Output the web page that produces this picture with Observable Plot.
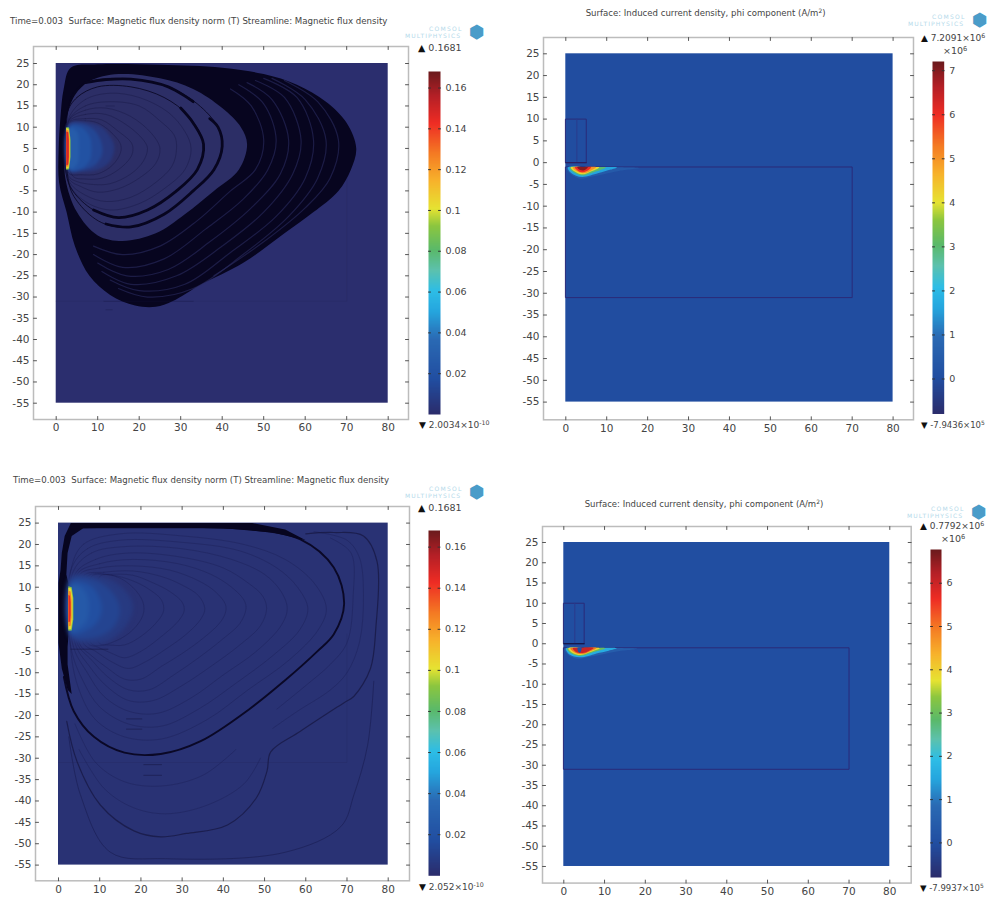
<!DOCTYPE html>
<html><head><meta charset="utf-8">
<script src="https://cdn.jsdelivr.net/npm/d3@7"></script>
<script src="https://cdn.jsdelivr.net/npm/@observablehq/plot@0.6"></script>
<style>
html,body{margin:0;padding:0;background:#fff}
#page{position:relative;width:989px;height:900px;overflow:hidden;font-family:"DejaVu Sans",sans-serif;color:#444}
#page>svg{position:absolute;overflow:visible}
.t{position:absolute;white-space:pre;line-height:1}
.t b{color:#111;font-weight:normal}
sup{font-size:70%;line-height:0;vertical-align:baseline;position:relative;top:-.45em}
</style></head><body><div id="page"></div>
<script>
// ---------- shared tick labels and colour stops ----------
const xTicks = [0,10,20,30,40,50,60,70,80];
const yTicks = [25,20,15,10,5,0,-5,-10,-15,-20,-25,-30,-35,-40,-45,-50,-55];
const colorStops = [0,.1,.22,.3,.36,.42,.48,.55,.6,.68,.76,.85,.93,1];
const colorRange = ["#2b2c6b","#214da0","#2a6ab4","#25a6de","#2dbde6","#5cc1ae","#5ab96a","#8cc63f","#e6e332","#f7b32b","#f47b23","#ee2c24","#b31f26","#6a1a1c"];

// ---------- titles ----------
const titleB = "Surface: Magnetic flux density norm (T) Streamline: Magnetic flux density";
const titleJ = "Surface: Induced current density, phi component (A/m";

// ---------- colour bar ranges and ticks ----------
const rangeB1 = [2.0034e-10,0.1681], rangeB2 = [2.052e-10,0.1681];
const rangeJ1 = [-0.79436,7.2091], rangeJ2 = [-0.79937,6.7792];
const ticksB = [0.02,0.04,0.06,0.08,0.1,0.12,0.14,0.16];
const ticksJ1 = [0,1,2,3,4,5,6,7];
const ticksJ2 = [0,1,2,3,4,5,6];

// ---------- panel 1: magnetic flux density (top left) ----------
const p1Black = [[0.7,-3],[0.6,5],[1,12],[1.8,19],[3.5,24],[10,24.8],[25,24.7],[40,24],[50,22.5],[58,20],[65,16],[70,11],[72.3,5],[71,0],[68,-5],[62,-10],[55,-15],[45,-22],[35,-27],[28,-31],[24,-32.3],[19,-32],[13,-29.5],[8,-25],[4.5,-18],[2.5,-10]];
const p1Navy = [[2.2,-2],[2.2,6],[2.5,12],[4.5,17.5],[8,20.8],[15,22.5],[25,21.5],[33,19],[40,14.5],[44.5,10],[46,6],[44,0],[38,-5],[31,-10.5],[24,-15],[16,-16.8],[10,-15.5],[5,-10]];
const p1Bands = [
 [[2.5,13],[5,17],[10,19.5],[18,19.5],[26,17],[32,12.5],[35.5,6],[34,0],[29,-5],[22,-9.5],[15,-11.3],[9,-9.5],[4,-5],[2.4,-1]],
 [[4,18],[9,21],[18,21.3],[27,19.5],[34,15.5],[39,10],[40,5.5],[38,0],[33,-5],[26,-10.5],[18,-13.5],[11,-12.5],[5.5,-8],[3,-3]]
];
const p1Thick = [
 [[30,14.5],[33,11],[35.5,6],[34,0],[29,-5],[22,-9.5],[15,-11.3],[9,-9.5]],
 [[37,12],[39,10],[40,5.5],[38,0],[33,-5],[26,-10.5],[18,-13.5],[12,-12.8]],
 [[7,20.5],[12,21.2],[18,21.3],[27,19.5],[33,16]]
];
const p1Arcs = [
 [[42,19],[47,15],[50,7],[48,0],[42,-5],[34,-12],[25,-18],[16,-20],[9,-18]],
 [[44,20],[50,15.5],[53,7],[51,0],[45,-7],[36,-14],[26,-21],[16,-23],[9,-20]],
 [[46,20.5],[52,16.5],[56,7],[54,-1],[47,-9],[37,-17],[27,-23.5],[17,-25],[10,-22]],
 [[48,21],[55,17],[59,7],[57,-1],[50,-10],[40,-18],[29,-25],[18,-27],[11,-24]],
 [[50,21.5],[58,17],[62,7],[60,-2],[53,-11],[42,-19.5],[31,-27],[20,-28.5],[13,-26]],
 [[52,21.5],[60,16.5],[65,7],[63,-2],[56,-11],[45,-20],[33,-28],[22,-30],[15,-28]],
 [[55,21],[63,16],[68,7],[66,-2],[60,-9],[50,-17],[38,-25]]
];
const p1Rings = [
 [[3,12],[7,16.5],[13,18],[20,17],[27,13.5],[31,9],[32.5,5],[31,0],[26,-4.5],[20,-8],[13,-9.5],[7,-7.5],[3,-3]],
 [[3,11.5],[7,15],[13,16],[20,15],[25,11.5],[28.5,8],[29,5],[28,1],[24,-3],[18,-6.5],[12,-7.5],[7,-6],[3,-2.5]],
 [[3,11.5],[7,14],[12,14.5],[18,12.5],[23,8.5],[25,5],[24,1.5],[20,-2],[15,-4.5],[10,-5.3],[6,-4],[3,-2]],
 [[3,11.2],[7,13],[12,13],[17,10.5],[21,7],[22,5],[21,2],[18,-1],[13,-3.3],[9,-3.5],[5,-2.8],[3,-1.5]],
 [[3,11],[7,12],[11,11.7],[15,9],[18,6.5],[18.5,5],[18,3],[15,0],[11,-2],[7,-2.2],[4,-1.5]],
 [[3,10.8],[7,11.5],[10,11],[13,9],[15.5,6],[15.5,4],[13.5,1],[10,-1],[6,-1.2],[3,-0.8]]
];
const p1Glow = [
 {value:0.006,pts:[[3,10.8],[8,11],[11,10],[13.5,7],[14,5],[13,2],[10,0],[6,-0.5],[3,-0.3]]},
 {value:0.013,pts:[[3.2,10.5],[7,10.6],[9.5,9],[11,6],[11,3.5],[9.5,1.2],[6.5,-0.1],[3.2,-0.2]]},
 {value:0.02,pts:[[3.3,10.2],[6,10],[8,8],[8.5,5],[8,2],[6,0.2],[3.3,-0.2]]},
 {value:0.027,pts:[[3.3,9.8],[5,9],[5.5,5],[5,1.2],[3.3,0.1]]}
];
const p1Strip = [
 {value:0.09,pts:[[2.4,0],[2.4,10],[3.1,9.9],[3.45,7],[3.45,3],[3.1,0.1]]},
 {value:0.105,pts:[[2.4,0.2],[2.4,9.8],[3,9.6],[3.3,7],[3.3,3],[3,0.4]]},
 {value:0.125,pts:[[2.4,0.6],[2.4,9.4],[2.95,9.2],[3.2,7],[3.2,3],[2.95,0.8]]},
 {value:0.148,pts:[[2.4,1],[2.4,9],[2.9,8.8],[3.05,7],[3.05,3],[2.9,1.2]]}
];

// ---------- panel 2: magnetic flux density (bottom left) ----------
const p2Black = [[3,25],[47,25],[55,23.5],[60,21],[52,22.8],[40,23.8],[20,24],[6,23.8],[3.2,22],[2.2,18],[1.9,13],[2.4,11],[2.4,-1.5],[2.2,-4],[2.2,-8],[3.2,-15],[2.2,-14],[0.8,-9],[0,-3],[0,11],[0.5,14],[0.8,18],[1.5,22]];
const p2Main = [[3.5,24],[15,24],[35,24],[46,23.6],[58.7,21.2],[66.8,14.6],[69.3,6],[66.8,-1],[62.8,-5],[54.7,-12],[46.6,-18.3],[34.5,-26],[24.8,-29],[16,-28.7],[8.6,-25],[3.7,-19],[1.3,-11]];
const p2Second = [[60,22.5],[66.8,22.8],[74,22],[77.3,16],[77,0.5],[75.7,-9],[71.7,-15.5],[69.3,-17],[58.7,-23.7],[51.5,-28.5],[50.6,-33],[48,-39.3],[41,-45.6],[31,-47.6],[24.8,-48.4],[18.3,-47],[10.2,-41],[4.5,-30.8],[2,-21.4]];
const p2Third = [[76.5,-12],[75,-27],[71.7,-38.5],[68.5,-46],[55,-52],[26,-53.5],[12.6,-52],[5.3,-38.5],[2.5,-25]];
const p2Arcs = [
 [[62,23],[70,21],[73,17],[74,8],[73,-3],[70,-10],[66,-14],[58,-19],[52,-23]],
 [[66,21.5],[71,18],[71.5,8],[70,-3],[66,-8],[60,-13],[53,-18.5]],
 [[4,-22],[9,-31],[16,-35.5],[25,-36.5],[35,-34],[43,-28]],
 [[5,-28],[11,-37],[18,-41.5],[26,-43],[36,-41],[45,-36],[49,-30]]
];
const p2Rings = [
 [[3,14],[6,20],[15,22.5],[30,22],[45,20],[55,16.5],[62,11],[65,5],[63,0],[56,-7],[46,-14],[36,-21],[25,-25.5],[16,-25],[9,-21],[5,-14],[3,-5]],
 [[3,14],[7,19],[15,21],[30,20.5],[44,18.5],[53,14.5],[58,10],[60.5,5],[58.5,0],[52,-6],[43,-12.5],[34,-18.5],[25,-22.5],[17,-22],[10,-18],[6,-12],[3,-4]],
 [[3.5,13.5],[8,18],[16,19.5],[30,19],[42,16.5],[50,13],[54,9],[55.5,5],[54,1],[48,-5],[40,-10.5],[32,-16],[24,-19.5],[17,-19],[11,-15.5],[7,-10],[3.5,-3.5]],
 [[4,13],[9,16.5],[17,18],[30,17],[40,14.5],[46,11],[49.5,8],[50.5,5],[49,1],[44,-3.5],[37,-8.5],[30,-13],[23,-16.5],[17,-16.5],[11.5,-13],[7.5,-8.5],[4,-3]],
 [[4.5,13],[10,15.5],[18,16.5],[29,15.5],[37,13],[42,10],[45,7],[45.5,5],[44,1.5],[40,-2],[34,-6.5],[28,-10.5],[22,-14],[17,-14],[12,-11],[8,-7],[4.5,-3]],
 [[5,12.8],[10,14.5],[18,15],[27,14],[34,11.5],[38,9],[40.5,6],[40.5,4],[39,1.5],[35,-2],[30,-5.5],[25,-8.5],[20,-11.5],[16,-11.5],[12,-9],[8,-6],[5,-3]],
 [[6,12.6],[11,13.5],[18,13.8],[25,12.5],[30,10.5],[34,8],[35.5,5],[34.5,2.5],[31,-1],[26,-4.5],[21,-7.5],[17,-9],[13,-7.5],[9,-5],[6,-3]],
 [[7,12.5],[12,13],[18,12.8],[23,11],[27,9],[30,6.5],[30.5,4.5],[29,2],[25,-1.5],[20,-5],[16,-6.5],[13,-5.5],[9.5,-4],[7,-3]],
 [[8,12.5],[13,12.8],[18,11.5],[22,9.5],[25,7],[25.5,4.5],[24,2],[20,-1.5],[16,-3.5],[12,-3.5],[8,-3.2]],
 [[10,12.5],[14,12.5],[18,10],[20.5,6.5],[20.5,3.5],[18,0],[14,-2.5],[10,-3.2]]
];
const p2Glow = [
 {value:0.007,pts:[[3,12.6],[9,12.6],[14,11],[17.5,7.5],[18,4.5],[16,0.5],[12,-2.6],[7,-3.2],[3,-2]]},
 {value:0.012,pts:[[3,11.8],[8,12],[12,9.8],[14.5,6.5],[14.8,3.5],[13,0.3],[9,-1.7],[3,-1.4]]},
 {value:0.018,pts:[[3,11],[7,10.8],[9.5,8.5],[10.5,5],[9.5,2],[7,0],[3,-0.8]]},
 {value:0.025,pts:[[3,10.5],[5.5,10],[7,8],[7.4,5],[6.8,2],[5,0.4],[3,-0.4]]}
];
const p2Strip = [
 {value:0.09,pts:[[2.4,-0.2],[2.4,10.2],[3.2,10],[3.6,7.5],[3.6,2.5],[3.2,-0.1]]},
 {value:0.105,pts:[[2.4,0.1],[2.4,9.9],[3.05,9.7],[3.4,7.5],[3.4,2.5],[3.05,0.2]]},
 {value:0.125,pts:[[2.4,0.8],[2.4,9.2],[2.95,9],[3.15,7],[3.15,3],[2.95,1]]},
 {value:0.145,pts:[[2.4,1.8],[2.4,8.2],[2.8,8],[2.95,6.5],[2.95,3.5],[2.8,2]]}
];
const p1Dashes = [[[12,15],[14,15]],[[11.5,-31],[33,-31]],[[12,-33],[13.5,-33]]];
const p2Dashes = [[[16.5,-20.8],[20.2,-20.8]],[[16.5,-23.2],[20.2,-23.2]],[[20.7,-31.5],[25,-31.5]],[[20.7,-34],[25,-34]],[[3,-4.5],[12,-4.5]]];
const ironEdge = [[70,-1],[70,-31],[0,-31]];

// ---------- panels 3 and 4: induced current density ----------
const coilBox = [[0,10],[5,10],[5,0],[0,0]];
const coilLine = [[2.7,10],[2.7,0]];
const plateBox = [[0,-1],[70,-1],[70,-31],[0,-31]];
const j1Heat = [
 {value:0.45,pts:[[0.2,-1.1],[0.9,-2.4],[2.5,-3.4],[4,-3.7],[6,-3.3],[9,-2.7],[13,-1.9],[18,-1.25],[12,-1.05],[5,-1.05]]},
 {value:1.6,pts:[[0.5,-1.1],[1.1,-2.2],[2.5,-3],[4,-3.3],[6,-2.95],[8,-2.4],[11,-1.6],[12.5,-1.1],[6,-1.05]]},
 {value:3,pts:[[0.9,-1.1],[1.6,-2],[3,-2.75],[4,-2.95],[5.5,-2.65],[7.5,-2],[9.8,-1.1],[5,-1.05]]},
 {value:4.2,pts:[[1.2,-1.1],[2.1,-2],[3.4,-2.6],[4.5,-2.65],[6,-2.1],[8.2,-1.1],[5,-1.05]]},
 {value:5,pts:[[1.7,-1.1],[2.7,-2],[3.9,-2.4],[5,-2.3],[6.4,-1.7],[7.4,-1.05],[4.5,-1.05]]},
 {value:6,pts:[[2.2,-1.05],[3,-1.9],[4,-2.2],[5,-2],[6.2,-1.05],[4.2,-1]]},
 {value:7,pts:[[2.8,-1.05],[3.5,-1.7],[4.5,-1.75],[5.4,-1.05],[4.1,-1]]}
];
const j2Heat = [
 {value:0.45,pts:[[0.2,-1.2],[0.9,-2.6],[2.5,-3.5],[4,-3.7],[6,-3.3],[9,-2.7],[13,-1.9],[18,-1.25],[12,-1.05],[5,-1.05]]},
 {value:1.6,pts:[[0.5,-1.2],[1.1,-2.4],[2.5,-3.15],[4,-3.35],[6,-3],[8,-2.4],[11,-1.7],[13,-1.1],[6,-1.05]]},
 {value:3,pts:[[0.8,-1.2],[1.5,-2.2],[3,-2.85],[4,-3],[5.5,-2.7],[7.5,-2],[10.2,-1.1],[5,-1.05]]},
 {value:4,pts:[[1.1,-1.1],[1.9,-2.1],[3.3,-2.7],[4.5,-2.7],[6,-2.2],[8.8,-1.1],[5,-1.05]]},
 {value:5,pts:[[1.6,-1.1],[2.4,-2],[3.5,-2.45],[5,-2.45],[6.6,-1.8],[8,-1.05],[4.5,-1.05]]},
 {value:6,pts:[[2.2,-1.1],[2.9,-1.95],[3.6,-2.25],[5,-2.25],[6.5,-1.6],[7.3,-1.05],[4.2,-1]]},
 {value:0,pts:[[3.4,-1.02],[3.5,-1.9],[3.9,-2.2],[4.2,-1.9],[4.35,-1.02]]}
];

// ---------- helpers turning the named lists into tables ----------
const toRows = (curves) => curves.flatMap((pts, i) => pts.map(([x, y]) => ({x, y, i})));
const heatRows = (levels) => levels.flatMap((l, i) => l.pts.map(([x, y]) => ({x, y, i, value: l.value})));
const page = document.getElementById("page");
const ink = "#444", frameInk = "#bcbcbc", tickInk = "#555", deep = "#07051f";

function colorOpt([lo, hi]) {
  return {type: "linear", clamp: true, domain: colorStops.map(t => lo + t * (hi - lo)), range: colorRange, interpolate: "rgb"};
}
const tickShape = {draw(c, l) { c.moveTo(0, 0); c.lineTo(0, -l); }};
function frameTicks(values, axis, len, stroke) {
  const o = {length: len, anchor: "start", shape: tickShape, stroke, strokeWidth: 1};
  return axis === "x"
    ? [Plot.vectorX(values, {x: d => d, frameAnchor: "bottom", rotate: 0, ...o}),
       Plot.vectorX(values, {x: d => d, frameAnchor: "top", rotate: 180, ...o})]
    : [Plot.vectorY(values, {y: d => d, frameAnchor: "left", rotate: 90, ...o}),
       Plot.vectorY(values, {y: d => d, frameAnchor: "right", rotate: -90, ...o})];
}
function panel(box, data, range, surfaceValue, marks) {
  const [l, r, t, b] = box, [x0, x80, y25, y55] = data;
  const mL = 32, mR = 1, mT = 1, mB = 20;
  const plot = Plot.plot({
    width: r - l + mL + mR, height: b - t + mT + mB,
    marginLeft: mL, marginRight: mR, marginTop: mT, marginBottom: mB,
    x: {domain: [0, 80], insetLeft: x0 - l, insetRight: r - x80},
    y: {domain: [-55, 25], insetTop: y25 - t, insetBottom: b - y55},
    color: colorOpt(range),
    style: {background: "transparent", fontFamily: "DejaVu Sans", color: ink, overflow: "visible"},
    marks: [
      Plot.rect([{x1: 0, x2: 80, y1: -55, y2: 25, value: surfaceValue}], {x1: "x1", x2: "x2", y1: "y1", y2: "y2", fill: "value", imageFilter: "blur(0.4px)"}),
      ...marks,
      Plot.frame({stroke: frameInk, strokeWidth: 1.5}),
      ...frameTicks(xTicks, "x", 3, tickInk),
      ...frameTicks(yTicks, "y", 3, tickInk),
      Plot.axisX(xTicks, {anchor: "bottom", tickSize: 0, tickPadding: 4.5, label: null, tickFormat: d => String(d), fontSize: 10.5, fill: ink}),
      Plot.axisY(yTicks, {anchor: "left", tickSize: 0, tickPadding: 4, label: null, tickFormat: d => String(d), fontSize: 10.5, fill: ink})
    ]
  });
  plot.style.left = (l - mL) + "px";
  plot.style.top = (t - mT) + "px";
  page.appendChild(plot);
}
function colorbar(box, range, ticks, fmt) {
  const [l, r, t, b] = box;
  const mR = 30;
  const plot = Plot.plot({
    width: r - l + mR, height: b - t,
    marginLeft: 0, marginRight: mR, marginTop: 0, marginBottom: 0,
    x: {domain: [0, 1], axis: null},
    y: {domain: range, axis: null},
    color: colorOpt(range),
    style: {background: "transparent", fontFamily: "DejaVu Sans", color: ink, overflow: "visible"},
    marks: [
      Plot.raster({x1: 0, x2: 1, y1: range[0], y2: range[1], width: 2, height: 400, fill: (x, y) => y, imageRendering: "auto"}),
      ...frameTicks(ticks, "y", 2, "#333"),
      Plot.axisY(ticks, {anchor: "right", tickSize: 0, tickPadding: 5, label: null, tickFormat: fmt, fontSize: 9.5, fill: ink})
    ]
  });
  plot.style.left = l + "px";
  plot.style.top = t + "px";
  page.appendChild(plot);
}
function label(html, x, y, size, extra) {
  const d = document.createElement("div");
  d.className = "t";
  d.style.cssText = `left:${x}px;top:${y}px;font-size:${size}px;${extra || ""}`;
  d.innerHTML = html;
  page.appendChild(d);
}
function logo(x, y) {
  label("COMSOL", x + 24, y, 6, "color:#b4d9ea;letter-spacing:1.3px");
  label("MULTIPHYSICS", x, y + 7, 6, "color:#b4d9ea;letter-spacing:1.1px");
  label("\u2B22", x + 64, y - 3, 18, "color:#4a9cc9");
}
const smooth = {x: "x", y: "y", z: "i", curve: "catmull-rom"};
const closed = {x: "x", y: "y", z: "i", curve: "catmull-rom-closed"};
const blur = "blur(0.6px)";
const heat = (levels, filter, curve) => Plot.line(heatRows(levels), {...closed, curve: curve || closed.curve, fill: "value", stroke: "none", imageFilter: filter || blur});
const geometry = (strokeFirst) => [
  Plot.line(coilBox, {x: d => d[0], y: d => d[1], curve: "linear-closed", stroke: "#2a2a78", strokeWidth: 1}),
  Plot.line(coilLine, {x: d => d[0], y: d => d[1], stroke: "#2a3a8c", strokeWidth: 1}),
  Plot.line(plateBox, {x: d => d[0], y: d => d[1], curve: "linear-closed", stroke: "#2a2a78", strokeWidth: 1}),
  Plot.line([[0,0],[5,0]], {x: d => d[0], y: d => d[1], stroke: strokeFirst, strokeWidth: 1.2})
];

// ---------- panels ----------
panel([33,408,46,419], [55.7,387.7,63,402.7], rangeB1, 0.0008, [
  Plot.line(ironEdge, {x: d => d[0], y: d => d[1], stroke: "#26285c", strokeWidth: 1, strokeOpacity: .25}),
  Plot.line(toRows([p1Black]), {...closed, fill: deep, stroke: "none", imageFilter: blur}),
  Plot.line(toRows(p1Arcs), {...smooth, stroke: "#2d2f66", strokeWidth: 1.2, strokeOpacity: .55, imageFilter: blur}),
  Plot.line(toRows([p1Navy]), {...closed, fill: "#2c2e66", stroke: "none", imageFilter: blur}),
  Plot.line(toRows(p1Bands), {...closed, stroke: deep, strokeWidth: 1, strokeOpacity: .8, imageFilter: blur}),
  Plot.line(toRows(p1Thick), {...smooth, stroke: deep, strokeWidth: 2.8, imageFilter: blur}),
  Plot.line(toRows(p1Rings), {...closed, stroke: "#14143f", strokeWidth: 0.9, strokeOpacity: .4, imageFilter: "blur(0.7px)"}),
  heat(p1Glow, "blur(1.5px)"),
  heat(p1Strip, "blur(0.4px)", "linear-closed"),
  Plot.line(toRows(p1Dashes), {x: "x", y: "y", z: "i", stroke: "#14143f", strokeWidth: 1, strokeOpacity: .3})
]);
panel([35,409,505.7,880], [58,387.7,522.3,864.3], rangeB2, 0.003, [
  Plot.line(ironEdge, {x: d => d[0], y: d => d[1], stroke: "#26285c", strokeWidth: 1, strokeOpacity: .25}),
  Plot.line(toRows(p2Rings), {...closed, stroke: "#1a1c50", strokeWidth: 0.9, strokeOpacity: .4, imageFilter: "blur(0.7px)"}),
  Plot.line(toRows(p2Arcs), {...smooth, stroke: "#1a1c50", strokeWidth: 0.9, strokeOpacity: .4, imageFilter: "blur(0.7px)"}),
  Plot.line(toRows([p2Third]), {...smooth, stroke: "#1a1c50", strokeWidth: 1, strokeOpacity: .6, imageFilter: "blur(0.7px)"}),
  Plot.line(toRows([p2Second]), {...smooth, stroke: "#15153f", strokeWidth: 1.2, strokeOpacity: .7, imageFilter: "blur(0.7px)"}),
  Plot.line(toRows([p2Main]), {...smooth, stroke: "#0a0826", strokeWidth: 1.9, imageFilter: "blur(0.7px)"}),
  Plot.line(p2Black, {x: d => d[0], y: d => d[1], curve: "linear-closed", fill: deep, stroke: "none", imageFilter: "blur(0.7px)"}),
  heat(p2Glow, "blur(2px)"),
  heat(p2Strip, "blur(0.4px)", "linear-closed"),
  Plot.line(toRows(p2Dashes), {x: "x", y: "y", z: "i", stroke: "#14143f", strokeWidth: 1, strokeOpacity: .5})
]);
panel([542.7,912.7,36.7,419], [565,892.3,53,401.3], rangeJ1, 0, [...geometry("#2a1f60"), heat(j1Heat)]);
panel([542,910.7,525.7,882.3], [563.3,889.3,541.7,865.7], rangeJ2, 0, [...geometry("#120f3a"), heat(j2Heat)]);

// ---------- colour bars ----------
const fmtB = d => String(d);
colorbar([428,440,71,414], rangeB1, ticksB, fmtB);
colorbar([428,439.5,529.7,875], rangeB2, ticksB, fmtB);
colorbar([932,943.7,60.7,413.3], rangeJ1, ticksJ1, fmtB);
colorbar([930,941,548.7,876.7], rangeJ2, ticksJ2, fmtB);

// ---------- text ----------
const up = "<b>\u25B2</b> ", down = "<b>\u25BC</b> ";
label("Time=0.003  " + titleB, 10, 17, 8.65);
label("Time=0.003  " + titleB, 13, 476, 8.6);
label(titleJ + "<sup>2</sup>)", 585.7, 9, 8.55);
label(titleJ + "<sup>2</sup>)", 584.7, 500, 8.5);
logo(405, 26); logo(405, 486);
logo(908, 14); logo(907, 506);
label(up + "0.1681", 418, 43, 9.5);
label(down + "2.0034\u00D710<sup>-10</sup>", 419, 421, 9);
label(up + "0.1681", 418, 503, 9.5);
label(down + "2.052\u00D710<sup>-10</sup>", 419, 883, 9);
label(up + "7.2091\u00D710<sup>6</sup>", 921, 34, 9);
label("\u00D710<sup>6</sup>", 943, 46, 9.5);
label(down + "-7.9436\u00D710<sup>5</sup>", 921, 421, 8.5);
label(up + "0.7792\u00D710<sup>6</sup>", 920, 522, 9);
label("\u00D710<sup>6</sup>", 941, 534, 9.5);
label(down + "-7.9937\u00D710<sup>5</sup>", 920, 884, 8.5);
</script></body></html>
